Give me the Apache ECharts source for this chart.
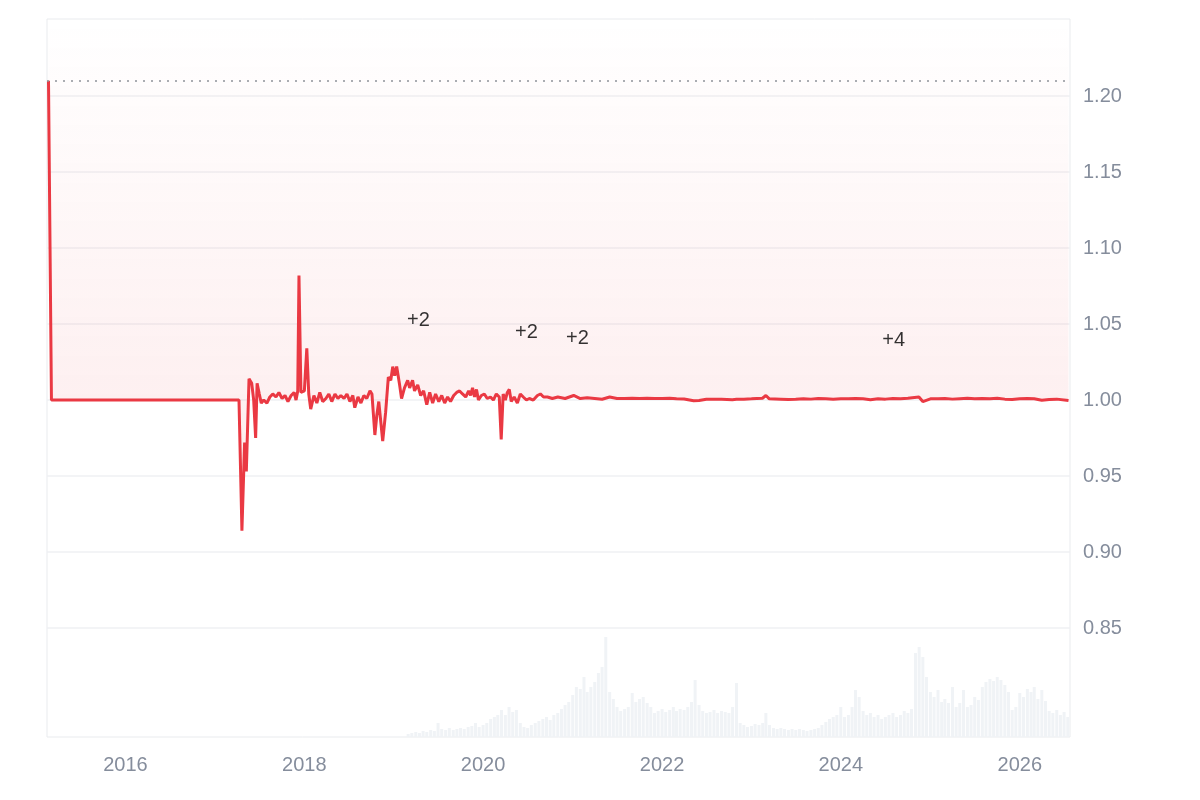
<!DOCTYPE html>
<html>
<head>
<meta charset="utf-8">
<script src="https://cdn.jsdelivr.net/npm/echarts@6/dist/echarts.min.js"></script>
<style>
html,body{margin:0;padding:0;background:#fff;}
#chart{width:1200px;height:800px;}
</style>
</head>
<body>
<div id="chart"></div>
<script>
// ---- price series (date, price) ----
const pricePoints = [
['2015-02-21',1.210],['2015-03-05',1.000],['2016-06-01',1.000],['2017-04-09',1.000],
['2017-04-21',0.914],['2017-05-02',0.972],['2017-05-09',0.953],['2017-05-20',1.014],
['2017-05-31',1.011],['2017-06-08',1.000],['2017-06-16',0.975],['2017-06-22',1.011],
['2017-07-01',1.004],['2017-07-09',0.998],['2017-07-19',1.000],['2017-08-01',0.998],
['2017-08-13',1.002],['2017-08-25',1.004],['2017-09-07',1.002],['2017-09-19',1.005],
['2017-10-02',1.001],['2017-10-14',1.003],['2017-10-26',0.999],['2017-11-08',1.003],
['2017-11-20',1.005],['2017-11-28',1.000],['2017-12-05',1.006],['2017-12-10',1.082],
['2017-12-18',1.005],['2018-01-01',1.006],['2018-01-11',1.034],['2018-01-19',1.004],
['2018-01-27',0.994],['2018-02-09',1.003],['2018-02-21',0.998],['2018-03-05',1.005],
['2018-03-17',0.999],['2018-03-30',1.001],['2018-04-11',1.004],['2018-04-23',0.999],
['2018-05-06',1.004],['2018-05-18',1.001],['2018-05-30',1.003],['2018-06-12',1.001],
['2018-06-24',1.004],['2018-07-06',0.999],['2018-07-18',1.003],['2018-07-26',0.995],
['2018-08-08',1.002],['2018-08-20',0.998],['2018-09-01',1.003],['2018-09-13',1.001],
['2018-09-26',1.006],['2018-10-04',1.004],['2018-10-16',0.977],['2018-10-24',0.990],
['2018-11-01',0.999],['2018-11-17',0.973],['2018-11-29',0.992],['2018-12-10',1.015],
['2018-12-20',1.013],['2018-12-28',1.022],['2019-01-05',1.016],['2019-01-13',1.022],
['2019-01-25',1.010],['2019-02-02',1.001],['2019-02-14',1.008],['2019-02-27',1.013],
['2019-03-07',1.008],['2019-03-19',1.013],['2019-03-27',1.006],['2019-04-09',1.010],
['2019-04-21',1.003],['2019-05-03',1.006],['2019-05-16',0.997],['2019-05-28',1.005],
['2019-06-09',0.998],['2019-06-21',1.004],['2019-07-04',0.999],['2019-07-16',1.003],
['2019-07-28',0.998],['2019-08-09',1.002],['2019-08-21',0.999],['2019-09-03',1.003],
['2019-09-15',1.005],['2019-09-27',1.006],['2019-10-09',1.004],['2019-10-22',1.002],
['2019-11-03',1.006],['2019-11-11',1.003],['2019-11-19',1.008],['2019-11-27',1.002],
['2019-12-05',1.007],['2019-12-13',1.000],['2019-12-25',1.003],['2020-01-06',1.004],
['2020-01-18',1.001],['2020-01-31',1.002],['2020-02-12',1.000],['2020-02-24',1.004],
['2020-03-07',1.002],['2020-03-15',0.974],['2020-03-23',1.004],['2020-04-01',1.000],
['2020-04-09',1.005],['2020-04-17',1.007],['2020-04-25',0.999],['2020-05-07',1.002],
['2020-05-20',0.998],['2020-06-01',1.004],['2020-06-13',1.002],['2020-06-26',1.000],
['2020-07-08',1.001],['2020-07-24',1.000],['2020-08-10',1.003],['2020-08-22',1.004],
['2020-09-04',1.002],['2020-09-20',1.002],['2020-10-10',1.001],['2020-11-01',1.002],
['2020-12-01',1.001],['2021-01-05',1.003],['2021-02-01',1.001],['2021-03-01',1.0015],
['2021-04-01',1.001],['2021-05-01',1.0005],['2021-06-01',1.002],['2021-07-01',1.001],
['2021-08-01',1.001],['2021-09-01',1.0012],['2021-10-01',1.001],['2021-11-01',1.0012],
['2021-12-01',1.001],['2022-01-01',1.001],['2022-02-01',1.0012],['2022-03-01',1.0008],
['2022-04-01',1.0007],['2022-05-10',0.9995],['2022-06-01',0.9997],['2022-07-01',1.0005],
['2022-08-01',1.0006],['2022-09-01',1.0005],['2022-10-15',1.0002],['2022-11-01',1.0005],
['2022-12-01',1.0006],['2023-01-01',1.0008],['2023-02-15',1.0012],['2023-03-01',1.003],
['2023-03-15',1.0008],['2023-05-01',1.0005],['2023-06-01',1.0003],['2023-07-01',1.0005],
['2023-08-01',1.0009],['2023-09-01',1.0006],['2023-10-01',1.001],['2023-11-01',1.0008],
['2023-12-01',1.0005],['2024-01-01',1.0009],['2024-02-01',1.0008],['2024-03-01',1.001],
['2024-04-01',1.0008],['2024-05-01',1.0002],['2024-06-01',1.0008],['2024-07-01',1.0006],
['2024-08-01',1.001],['2024-09-01',1.0009],['2024-10-01',1.0012],['2024-11-15',1.002],
['2024-12-01',0.999],['2025-01-01',1.0008],['2025-02-01',1.0008],['2025-03-01',1.001],
['2025-04-01',1.0006],['2025-05-01',1.0009],['2025-06-01',1.0011],['2025-07-01',1.0008],
['2025-08-01',1.001],['2025-09-01',1.0009],['2025-10-01',1.0011],['2025-11-01',1.0006],
['2025-12-01',1.0004],['2026-01-01',1.0008],['2026-02-01',1.001],['2026-03-01',1.0008],
['2026-04-01',0.9998],['2026-05-01',1.0004],['2026-06-01',1.0006],['2026-07-19',0.9997]
];

// ---- volume: semi-monthly from 2019-03 ----
const volumeStart = [2019, 3];
const volumeValues = [
3,4,5,4,6,5,7,6,14,8,7,9,7,8,9,8,10,11,14,10,
12,14,18,20,22,27,22,30,25,27,14,10,9,12,14,16,18,20,17,22,24,28,32,35,
42,50,48,60,45,50,55,64,70,100,45,38,30,26,28,30,44,35,38,40,34,30,24,26,
28,25,27,30,26,28,27,30,35,57,32,26,24,25,27,24,26,25,24,30,54,14,12,10,
11,13,12,14,24,12,9,8,9,8,7,8,7,8,7,6,7,8,9,12,15,18,20,22,
30,20,22,30,47,40,26,22,24,20,22,18,20,22,24,20,22,26,24,28,84,90,80,60,
45,40,47,35,38,34,50,30,34,47,30,32,40,37,50,55,58,56,60,57,52,45,27,30,
44,40,48,45,50,38,47,36,26,24,27,22,25,20
];

// ---- annotations ----
const annotations = [
['2019-04-12',1.0526,'+2'],
['2020-06-26',1.0447,'+2'],
['2021-01-20',1.0408,'+2'],
['2024-08-04',1.0395,'+4']
];

// ---- axis ticks ----
const priceTicks = {min:0.85, max:1.20, step:0.05};
const priceRange = {min:0.7783, max:1.2507};
const xRange = {min:'2015-02-21', max:'2026-07-19'};
const highValue = 1.2105;

const volumeData = volumeValues.map(function(v,i){
  const y = volumeStart[0] + Math.floor((volumeStart[1]-1 + Math.floor(i/2))/12);
  const m = (volumeStart[1]-1 + Math.floor(i/2)) % 12 + 1;
  const d = i%2===0 ? '01' : '16';
  return [y + '-' + String(m).padStart(2,'0') + '-' + d, v];
});

const labelColor = '#858d9c';
const fontFam = 'Liberation Sans, Arial, sans-serif';

const chart = echarts.init(document.getElementById('chart'));
chart.setOption({
  animation:false,
  grid:[
    {left:47,right:130,top:19,bottom:63,show:true,borderColor:'#e9ebee',borderWidth:1,backgroundColor:'transparent'},
    {left:47,right:130,top:96,bottom:172,show:false}
  ],
  xAxis:[
    {type:'time',gridIndex:0,min:xRange.min,max:xRange.max,splitNumber:10,
     axisLine:{show:false},axisTick:{show:false},splitLine:{show:false},
     axisLabel:{color:labelColor,fontSize:20,fontFamily:fontFam,margin:18,hideOverlap:false,
       formatter:function(v){const y=new Date(v).getFullYear();return y%2===0?String(y):'';}}},
    {type:'value',gridIndex:1,show:false,min:0,max:1}
  ],
  yAxis:[
    {type:'value',gridIndex:0,min:priceRange.min,max:priceRange.max,show:false,splitLine:{show:false}},
    {type:'value',gridIndex:0,min:0,max:718,show:false,splitLine:{show:false}},
    {type:'value',gridIndex:1,position:'right',min:priceTicks.min,max:priceTicks.max,interval:priceTicks.step,
     axisLine:{show:false},axisTick:{show:false},
     splitLine:{show:true,lineStyle:{color:'#eff0f3',width:1.5}},
     axisLabel:{color:labelColor,fontSize:20,fontFamily:fontFam,margin:13,
       formatter:function(v){return v.toFixed(2);}}}
  ],
  series:[
    {type:'line',xAxisIndex:1,yAxisIndex:2,data:[],silent:true},
    {type:'bar',xAxisIndex:0,yAxisIndex:1,data:volumeData,barWidth:3,
     itemStyle:{color:'#f0f3f6'},silent:true,z:1},
    {type:'line',xAxisIndex:0,yAxisIndex:0,data:pricePoints,showSymbol:false,
     lineStyle:{color:'#ea3943',width:3},
     itemStyle:{color:'#ea3943'},
     areaStyle:{origin:'end',color:new echarts.graphic.LinearGradient(0,0,0,1,[
       {offset:0,color:'rgba(234,57,67,0)'},
       {offset:1,color:'rgba(234,57,67,0.15)'}])},
     markLine:{silent:true,symbol:'none',label:{show:false},
       lineStyle:{color:'#8f9399',type:[2,6],width:1.5},
       data:[{yAxis:highValue}]},
     z:3},
    {type:'scatter',xAxisIndex:0,yAxisIndex:0,symbolSize:1,
     itemStyle:{color:'rgba(0,0,0,0)'},
     data:annotations.map(function(a){return {value:[a[0],a[1]],name:a[2]};}),
     label:{show:true,position:'inside',formatter:function(p){return p.name;},
       color:'#000',fontSize:20,fontFamily:fontFam},
     z:5}
  ]
});
</script>
</body>
</html>
